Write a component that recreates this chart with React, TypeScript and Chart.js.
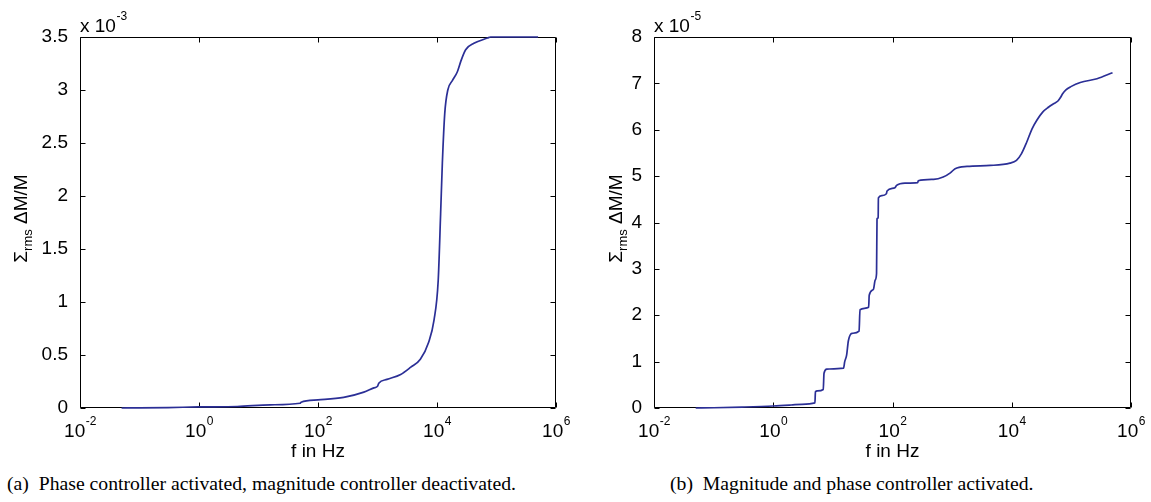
import React, { useEffect, useRef } from "react";
import { Chart, registerables } from "chart.js";

Chart.register(...registerables);

// ---------- data ----------
const X_TICKS = [1e-2, 1, 1e2, 1e4, 1e6];
const X_TICK_BASE = "10";
const X_TICK_EXP = ["-2", "0", "2", "4", "6"];

// (a) values in units of 1e-3
const LEFT_F = [0.05, 0.1, 0.3, 1, 4.4, 15.8, 50, 52, 100, 270, 590, 870, 1000, 1050, 1445, 2450, 3630, 5250, 7240, 8910, 10470, 11500, 12300, 13500, 15200, 18200, 21900, 25100, 30300, 41700, 70800, 79400, 500000];
const LEFT_Y = [0, 0.001, 0.004, 0.01, 0.014, 0.03, 0.045, 0.055, 0.077, 0.1, 0.15, 0.19, 0.205, 0.234, 0.27, 0.316, 0.385, 0.46, 0.62, 0.83, 1.2, 1.83, 2.31, 2.78, 3.0, 3.09, 3.17, 3.27, 3.38, 3.44, 3.49, 3.5, 3.5];

// (b) values in units of 1e-5
const RIGHT_F = [0.05, 0.1, 0.3, 1, 2, 3, 5.0, 5.1, 5.5, 6.9, 7.1, 7.9, 15.1, 15.8, 17, 18.2, 20.9, 27.5, 28.5, 39.8, 40.7, 47.9, 51.3, 54, 55, 57.5, 58, 66, 79, 81, 110, 117, 162, 265, 270, 490, 708, 933, 1122, 1778, 4365, 9333, 12000, 14500, 17800, 21900, 26500, 33000, 41700, 50100, 59500, 66000, 70800, 81000, 98000, 141000, 269000, 490000];
const RIGHT_Y = [0, 0.005, 0.02, 0.043, 0.065, 0.08, 0.11, 0.35, 0.37, 0.4, 0.75, 0.84, 0.86, 1.0, 1.14, 1.45, 1.61, 1.66, 2.12, 2.17, 2.43, 2.56, 2.76, 2.9, 4.08, 4.1, 4.53, 4.58, 4.62, 4.68, 4.75, 4.8, 4.85, 4.86, 4.9, 4.93, 4.98, 5.07, 5.16, 5.21, 5.23, 5.28, 5.34, 5.48, 5.73, 6.02, 6.21, 6.38, 6.49, 6.56, 6.62, 6.7, 6.77, 6.86, 6.93, 7.02, 7.1, 7.23];

const LEFT_Y_MAX = 3.5;
const LEFT_Y_STEP = 0.5;
const LEFT_EXP = "-3";
const RIGHT_Y_MAX = 8;
const RIGHT_Y_STEP = 1;
const RIGHT_EXP = "-5";

const X_TITLE = "f in Hz";
const Y_TITLE_MAIN = "\u03A3";
const Y_TITLE_SUB = "rms";
const Y_TITLE_REST = " \u0394M/M";

const CAPTION_A = "(a)\u2002Phase controller activated, magnitude controller deactivated.";
const CAPTION_B = "(b)\u2002Magnitude and phase controller activated.";

// ---------- style ----------
const SANS = "'Liberation Sans', Arial, Helvetica, sans-serif";
const LINE_COLOR = "#2b2f96";
const H = 470;
const FS = 19;
const FS_SMALL = 12;

type PanelProps = {
  left: number;
  width: number;
  areaLeft: number;
  areaRight: number;
  fs: number[];
  ys: number[];
  yMax: number;
  yStep: number;
  exp: string;
  yTitleX: number;
};

function decorPlugin(p: PanelProps) {
  return {
    id: "decor",
    beforeDatasetsDraw(chart: any) {
      const ctx = chart.ctx as CanvasRenderingContext2D;
      const a = chart.chartArea;
      const xs = chart.scales.x;
      const ysc = chart.scales.y;
      ctx.save();
      ctx.strokeStyle = "#000";
      ctx.lineWidth = 1;
      const L = Math.round(a.left) + 0.5;
      const R = Math.round(a.right) - 0.5;
      const T = Math.round(a.top) + 0.5;
      const B = Math.round(a.bottom) - 0.5;
      ctx.beginPath();
      ctx.rect(L, T, R - L, B - T);
      ctx.stroke();
      const TL = 5;
      ctx.beginPath();
      X_TICKS.forEach((v) => {
        const px = Math.round(xs.getPixelForValue(v)) + 0.5;
        ctx.moveTo(px, B);
        ctx.lineTo(px, B - TL);
        ctx.moveTo(px, T);
        ctx.lineTo(px, T + TL);
      });
      ysc.ticks.forEach((t: any) => {
        const py = Math.round(ysc.getPixelForValue(t.value)) + 0.5;
        ctx.moveTo(L, py);
        ctx.lineTo(L + TL, py);
        ctx.moveTo(R, py);
        ctx.lineTo(R - TL, py);
      });
      ctx.stroke();
      ctx.restore();
    },
    afterDraw(chart: any) {
      const ctx = chart.ctx as CanvasRenderingContext2D;
      const a = chart.chartArea;
      const xs = chart.scales.x;
      ctx.save();
      ctx.fillStyle = "#000";
      ctx.textBaseline = "alphabetic";
      ctx.textAlign = "left";
      // x tick labels
      X_TICKS.forEach((v, i) => {
        const px = xs.getPixelForValue(v);
        ctx.font = `${FS}px ${SANS}`;
        const w1 = ctx.measureText(X_TICK_BASE).width;
        ctx.font = `${FS_SMALL}px ${SANS}`;
        const w2 = ctx.measureText(X_TICK_EXP[i]).width;
        const x0 = px - (w1 + w2) / 2;
        ctx.font = `${FS}px ${SANS}`;
        ctx.fillText(X_TICK_BASE, x0, 437);
        ctx.font = `${FS_SMALL}px ${SANS}`;
        ctx.fillText(X_TICK_EXP[i], x0 + w1 + 0.5, 425);
      });
      // x title
      ctx.font = `${FS}px ${SANS}`;
      ctx.textAlign = "center";
      ctx.fillText(X_TITLE, (a.left + a.right) / 2, 457);
      ctx.textAlign = "left";
      // multiplier
      ctx.font = `${FS}px ${SANS}`;
      const mul = "x 10";
      const mw = ctx.measureText(mul).width;
      ctx.fillText(mul, a.left, 32);
      ctx.font = `${FS_SMALL}px ${SANS}`;
      ctx.fillText(p.exp, a.left + mw + 0.5, 20);
      // y title
      ctx.save();
      const cy = (a.top + a.bottom) / 2 - 4;
      ctx.translate(p.yTitleX, cy);
      ctx.rotate(-Math.PI / 2);
      ctx.font = `${FS}px ${SANS}`;
      const w1 = ctx.measureText(Y_TITLE_MAIN).width;
      const w3 = ctx.measureText(Y_TITLE_REST).width;
      ctx.font = `${FS_SMALL + 1}px ${SANS}`;
      const w2 = ctx.measureText(Y_TITLE_SUB).width;
      let x = -(w1 + w2 + w3) / 2;
      ctx.font = `${FS}px ${SANS}`;
      ctx.fillText(Y_TITLE_MAIN, x, 0);
      x += w1;
      ctx.font = `${FS_SMALL + 1}px ${SANS}`;
      ctx.fillText(Y_TITLE_SUB, x, 5);
      x += w2;
      ctx.font = `${FS}px ${SANS}`;
      ctx.fillText(Y_TITLE_REST, x, 0);
      ctx.restore();
      ctx.restore();
    },
  };
}

function Panel(p: PanelProps) {
  const ref = useRef<HTMLCanvasElement | null>(null);
  useEffect(() => {
    if (!ref.current) return;
    const data = p.fs.map((f, i) => ({ x: f, y: p.ys[i] }));
    const chart = new Chart(ref.current, {
      type: "line",
      data: {
        datasets: [
          {
            data,
            borderColor: LINE_COLOR,
            borderWidth: 1.7,
            pointRadius: 0,
            cubicInterpolationMode: "monotone",
            fill: false,
            clip: 4,
          },
        ],
      },
      options: {
        animation: false,
        responsive: false,
        maintainAspectRatio: false,
        devicePixelRatio: 1,
        layout: { padding: { top: 37, left: 0, bottom: 0, right: p.width - p.areaRight } },
        plugins: { legend: { display: false }, tooltip: { enabled: false } },
        scales: {
          x: {
            type: "logarithmic",
            min: X_TICKS[0],
            max: X_TICKS[X_TICKS.length - 1],
            grid: { display: false },
            border: { display: false },
            ticks: { display: false },
            afterBuildTicks: (s: any) => {
              s.ticks = X_TICKS.map((v) => ({ value: v }));
            },
            afterFit: (s: any) => {
              s.height = H - 408;
            },
          },
          y: {
            type: "linear",
            min: 0,
            max: p.yMax,
            grid: { display: false },
            border: { display: false },
            ticks: {
              stepSize: p.yStep,
              color: "#000",
              padding: 4,
              font: { size: FS, family: SANS },
              callback: (v: any) => String(Math.round(Number(v) * 100) / 100),
            },
            afterFit: (s: any) => {
              s.width = p.areaLeft;
            },
          },
        },
      } as any,
      plugins: [decorPlugin(p)],
    });
    return () => chart.destroy();
  }, []);
  return (
    <canvas
      ref={ref}
      width={p.width}
      height={H}
      style={{ position: "absolute", left: p.left, top: 0, width: p.width, height: H, display: "block" }}
    />
  );
}

export default function App() {
  const captionStyle: React.CSSProperties = {
    position: "absolute",
    top: 472,
    fontFamily: "'Liberation Serif', 'Times New Roman', serif",
    fontSize: 19.7,
    lineHeight: "22px",
    color: "#000",
    whiteSpace: "nowrap",
  };
  return (
    <div style={{ position: "absolute", left: 0, top: 0, width: 1151, height: 502, background: "#fff", overflow: "hidden" }}>
      <Panel left={0} width={576} areaLeft={80} areaRight={556} fs={LEFT_F} ys={LEFT_Y} yMax={LEFT_Y_MAX} yStep={LEFT_Y_STEP} exp={LEFT_EXP} yTitleX={27} />
      <Panel left={576} width={575} areaLeft={78} areaRight={555} fs={RIGHT_F} ys={RIGHT_Y} yMax={RIGHT_Y_MAX} yStep={RIGHT_Y_STEP} exp={RIGHT_EXP} yTitleX={46} />
      <div style={{ ...captionStyle, left: 7 }}>{CAPTION_A}</div>
      <div style={{ ...captionStyle, left: 670 }}>{CAPTION_B}</div>
    </div>
  );
}
